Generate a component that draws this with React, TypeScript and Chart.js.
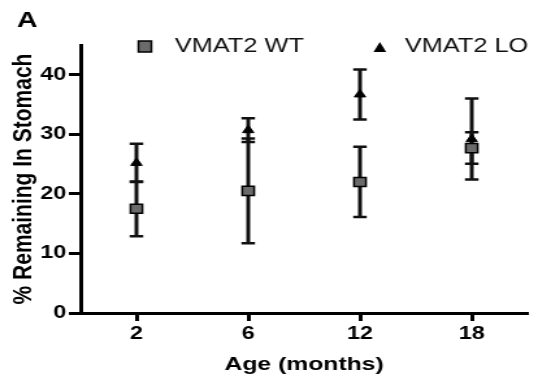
import React, { useEffect, useRef } from 'react';
import { Chart, registerables } from 'chart.js';

Chart.register(...registerables);

const ageLabels = ['2', '6', '12', '18'];
const wtMean = [17.5, 20.5, 22.0, 27.7];
const wtErr = [4.6, 8.8, 5.9, 2.65];
const loMean = [25.2, 30.7, 36.7, 29.2];
const loErr = [3.2, 2.0, 4.2, 6.8];
const yTicks = [0, 10, 20, 30, 40];
const yMax = 45;
const seriesNames = ['VMAT2 WT', 'VMAT2 LO'];
const panelLabel = 'A';
const yTitle = '% Remaining In Stomach';
const xTitle = 'Age (months)';

const FONT = '"Liberation Sans", Arial, Helvetica, sans-serif';
const INNER_W = 414;
const OUTER_W = 538;
const H = 383;

const errorBars = {
  id: 'errorBars',
  beforeDatasetsDraw(chart: any) {
    const ctx = chart.ctx;
    const ys = chart.scales.y;
    chart.data.datasets.forEach((ds: any, di: number) => {
      const meta = chart.getDatasetMeta(di);
      const errs: number[] = ds.errors || [];
      meta.data.forEach((pt: any, i: number) => {
        const v = ds.data[i];
        const e = errs[i];
        if (v == null || e == null) return;
        const top = ys.getPixelForValue(v + e);
        const bot = ys.getPixelForValue(v - e);
        ctx.save();
        ctx.strokeStyle = '#111';
        ctx.lineWidth = 3;
        ctx.beginPath();
        ctx.moveTo(pt.x, top);
        ctx.lineTo(pt.x, bot);
        ctx.stroke();
        ctx.lineWidth = 2.5;
        ctx.beginPath();
        ctx.moveTo(pt.x - 5.2, top);
        ctx.lineTo(pt.x + 5.2, top);
        ctx.moveTo(pt.x - 5.2, bot);
        ctx.lineTo(pt.x + 5.2, bot);
        ctx.stroke();
        ctx.restore();
      });
    });
  },
};

const annotations = {
  id: 'annotations',
  afterDraw(chart: any) {
    const ctx = chart.ctx;
    ctx.save();
    ctx.fillStyle = '#000';
    ctx.textBaseline = 'middle';
    ctx.textAlign = 'left';
    ctx.font = `bold 22px ${FONT}`;
    ctx.fillText(panelLabel, 13, 21);

    // legend: WT square
    const ly = 46.5;
    ctx.fillStyle = '#6b6b6b';
    ctx.strokeStyle = '#000';
    ctx.lineWidth = 1.5;
    ctx.fillRect(106.5, ly - 5.5, 10, 11);
    ctx.strokeRect(106.5, ly - 5.5, 10, 11);
    ctx.fillStyle = '#111';
    ctx.font = `19.5px ${FONT}`;
    ctx.fillText(seriesNames[0], 134.5, ly);

    // legend: LO triangle
    ctx.fillStyle = '#000';
    ctx.beginPath();
    ctx.moveTo(292.3, ly - 4.5);
    ctx.lineTo(297.2, ly + 5.5);
    ctx.lineTo(287.4, ly + 5.5);
    ctx.closePath();
    ctx.fill();
    ctx.fillStyle = '#111';
    ctx.fillText(seriesNames[1], 311.5, ly);
    ctx.restore();
  },
};

export default function App() {
  const canvasRef = useRef<HTMLCanvasElement | null>(null);

  useEffect(() => {
    if (!canvasRef.current) return;
    const chart = new Chart(canvasRef.current, {
      type: 'line',
      data: {
        labels: ageLabels,
        datasets: [
          {
            label: seriesNames[0],
            data: wtMean,
            errors: wtErr,
            showLine: false,
            pointStyle: 'rect',
            pointRadius: 6.5,
            pointBackgroundColor: '#6b6b6b',
            pointBorderColor: '#000',
            pointBorderWidth: 1.5,
            clip: false,
          } as any,
          {
            label: seriesNames[1],
            data: loMean,
            errors: loErr,
            showLine: false,
            pointStyle: 'triangle',
            pointRadius: 5,
            pointBackgroundColor: '#000',
            pointBorderColor: '#000',
            pointBorderWidth: 1,
            clip: false,
          } as any,
        ],
      },
      options: {
        animation: false,
        responsive: true,
        maintainAspectRatio: false,
        layout: { padding: { top: 45, left: 0, right: 0, bottom: 0 } },
        plugins: {
          legend: { display: false },
          tooltip: { enabled: false },
        },
        scales: {
          x: {
            type: 'category',
            offset: true,
            ticks: {
              font: { family: FONT, size: 18, weight: 'bold' },
              color: '#000',
              padding: 2,
              maxRotation: 0,
            },
            grid: {
              offset: false,
              drawOnChartArea: false,
              drawTicks: true,
              tickLength: 8,
              tickWidth: 3,
              tickColor: '#000',
              color: '#000',
            },
            border: { display: true, width: 3, color: '#000' },
            title: {
              display: true,
              text: xTitle,
              color: '#000',
              font: { family: FONT, size: 19, weight: 'bold' },
              padding: { top: 0, bottom: 7 },
            },
            afterFit: (s: any) => {
              s.height = 70;
            },
          },
          y: {
            min: 0,
            max: yMax,
            afterBuildTicks: (s: any) => {
              s.ticks = yTicks.map((v) => ({ value: v }));
            },
            ticks: {
              font: { family: FONT, size: 18, weight: 'bold' },
              color: '#000',
              padding: 2,
            },
            grid: {
              drawOnChartArea: false,
              drawTicks: true,
              tickLength: 9,
              tickWidth: 3,
              tickColor: '#000',
              color: '#000',
            },
            border: { display: true, width: 3, color: '#000' },
            title: {
              display: true,
              text: yTitle,
              color: '#000',
              font: { family: FONT, size: 21, weight: 'bold' },
              padding: { top: 6, bottom: 0 },
            },
            afterFit: (s: any) => {
              s.width = 62;
            },
          },
        },
      } as any,
      plugins: [errorBars, annotations],
    });
    return () => chart.destroy();
  }, []);

  return (
    <div
      style={{
        position: 'fixed',
        left: 0,
        top: 0,
        width: OUTER_W,
        height: H,
        overflow: 'hidden',
        background: '#fff',
      }}
    >
      <div
        style={{
          width: INNER_W,
          height: H,
          transform: `scaleX(${OUTER_W / INNER_W})`,
          transformOrigin: '0 0',
        }}
      >
        <canvas ref={canvasRef} />
      </div>
    </div>
  );
}
